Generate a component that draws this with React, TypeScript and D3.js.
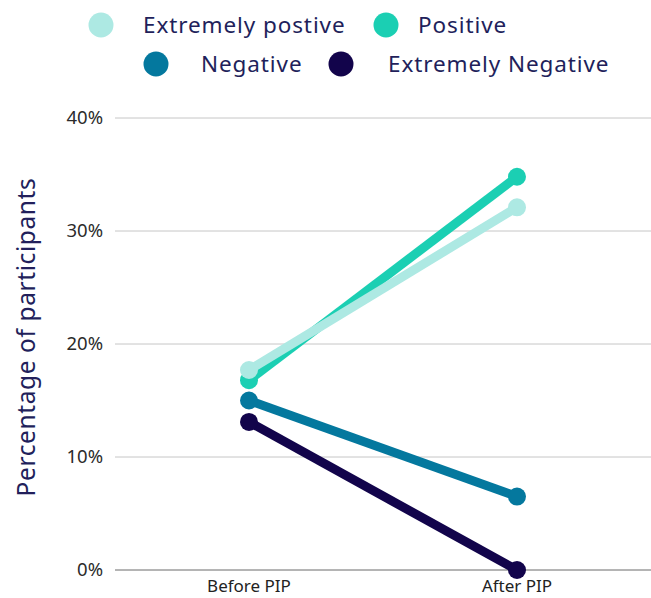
import React from "react";
import * as d3 from "d3";

// Survey categories and their share of participants before/after the programme
const periods = ["Before PIP", "After PIP"];
const seriesNames = ["Extremely postive", "Positive", "Negative", "Extremely Negative"];
const extremelyPositive = [17.7, 32.1];
const positive = [16.8, 34.8];
const negative = [15.0, 6.5];
const extremelyNegative = [13.1, 0.0];
const yTicks = [0, 10, 20, 30, 40];

const seriesValues = [extremelyPositive, positive, negative, extremelyNegative];
const colors = ["#ade9e3", "#1bcfb3", "#04789e", "#12044b"];

const W = 651;
const H = 598;
const margin = { left: 115, right: 0, top: 118, bottom: 28 };

export default function App() {
  const x = d3
    .scalePoint<string>()
    .domain(periods)
    .range([margin.left, W - margin.right])
    .padding(0.5);
  const y = d3
    .scaleLinear()
    .domain([0, 40])
    .range([H - margin.bottom, margin.top]);

  const line = d3
    .line<number>()
    .x((_, i) => x(periods[i]) as number)
    .y((d) => y(d));

  // Draw order: the negative lines sit underneath the positive ones
  const drawOrder = [3, 2, 1, 0];

  const legend = [
    { i: 0, cx: 101, tx: 143, cy: 25 },
    { i: 1, cx: 386, tx: 418, cy: 25 },
    { i: 2, cx: 156, tx: 201, cy: 64 },
    { i: 3, cx: 341, tx: 388, cy: 64 },
  ];

  const font = "'Noto Sans', sans-serif";

  return (
    <svg
      width={W}
      height={H}
      style={{ position: "absolute", left: 0, top: 0, background: "#fff" }}
      fontFamily={font}
    >
      {/* legend */}
      {legend.map((l) => (
        <g key={l.i}>
          <circle cx={l.cx} cy={l.cy} r={12.5} fill={colors[l.i]} />
          <text
            x={l.tx}
            y={l.cy}
            dy="0.35em"
            fontSize={22.5}
            fill="#221f5b"
            letterSpacing={0.9}
          >
            {seriesNames[l.i]}
          </text>
        </g>
      ))}

      {/* grid lines and y tick labels */}
      {yTicks.map((t) => (
        <g key={t}>
          <line
            x1={margin.left}
            x2={W - margin.right}
            y1={y(t)}
            y2={y(t)}
            stroke={t === 0 ? "#6b6b6b" : "#c6c6c6"}
            strokeWidth={1}
          />
          <text
            x={103}
            y={y(t)}
            dy="0.35em"
            textAnchor="end"
            fontSize={18.5}
            fill="#2b2b2b"
          >
            {t}%
          </text>
        </g>
      ))}

      {/* y axis title */}
      <text
        transform={`translate(35, ${(y(0) + y(40)) / 2 - 7}) rotate(-90)`}
        textAnchor="middle"
        fontSize={24.5}
        fill="#221f5b"
        letterSpacing={0.6}
      >
        Percentage of participants
      </text>

      {/* x labels */}
      {periods.map((p) => (
        <text
          key={p}
          x={x(p) as number}
          y={592}
          textAnchor="middle"
          fontSize={17}
          fill="#222"
        >
          {p}
        </text>
      ))}

      {/* series lines with end markers */}
      {drawOrder.map((si) => (
        <g key={si}>
          <path
            d={line(seriesValues[si]) || ""}
            fill="none"
            stroke={colors[si]}
            strokeWidth={9}
          />
          {seriesValues[si].map((v, i) => (
            <circle
              key={i}
              cx={x(periods[i]) as number}
              cy={y(v)}
              r={9}
              fill={colors[si]}
            />
          ))}
        </g>
      ))}
    </svg>
  );
}
